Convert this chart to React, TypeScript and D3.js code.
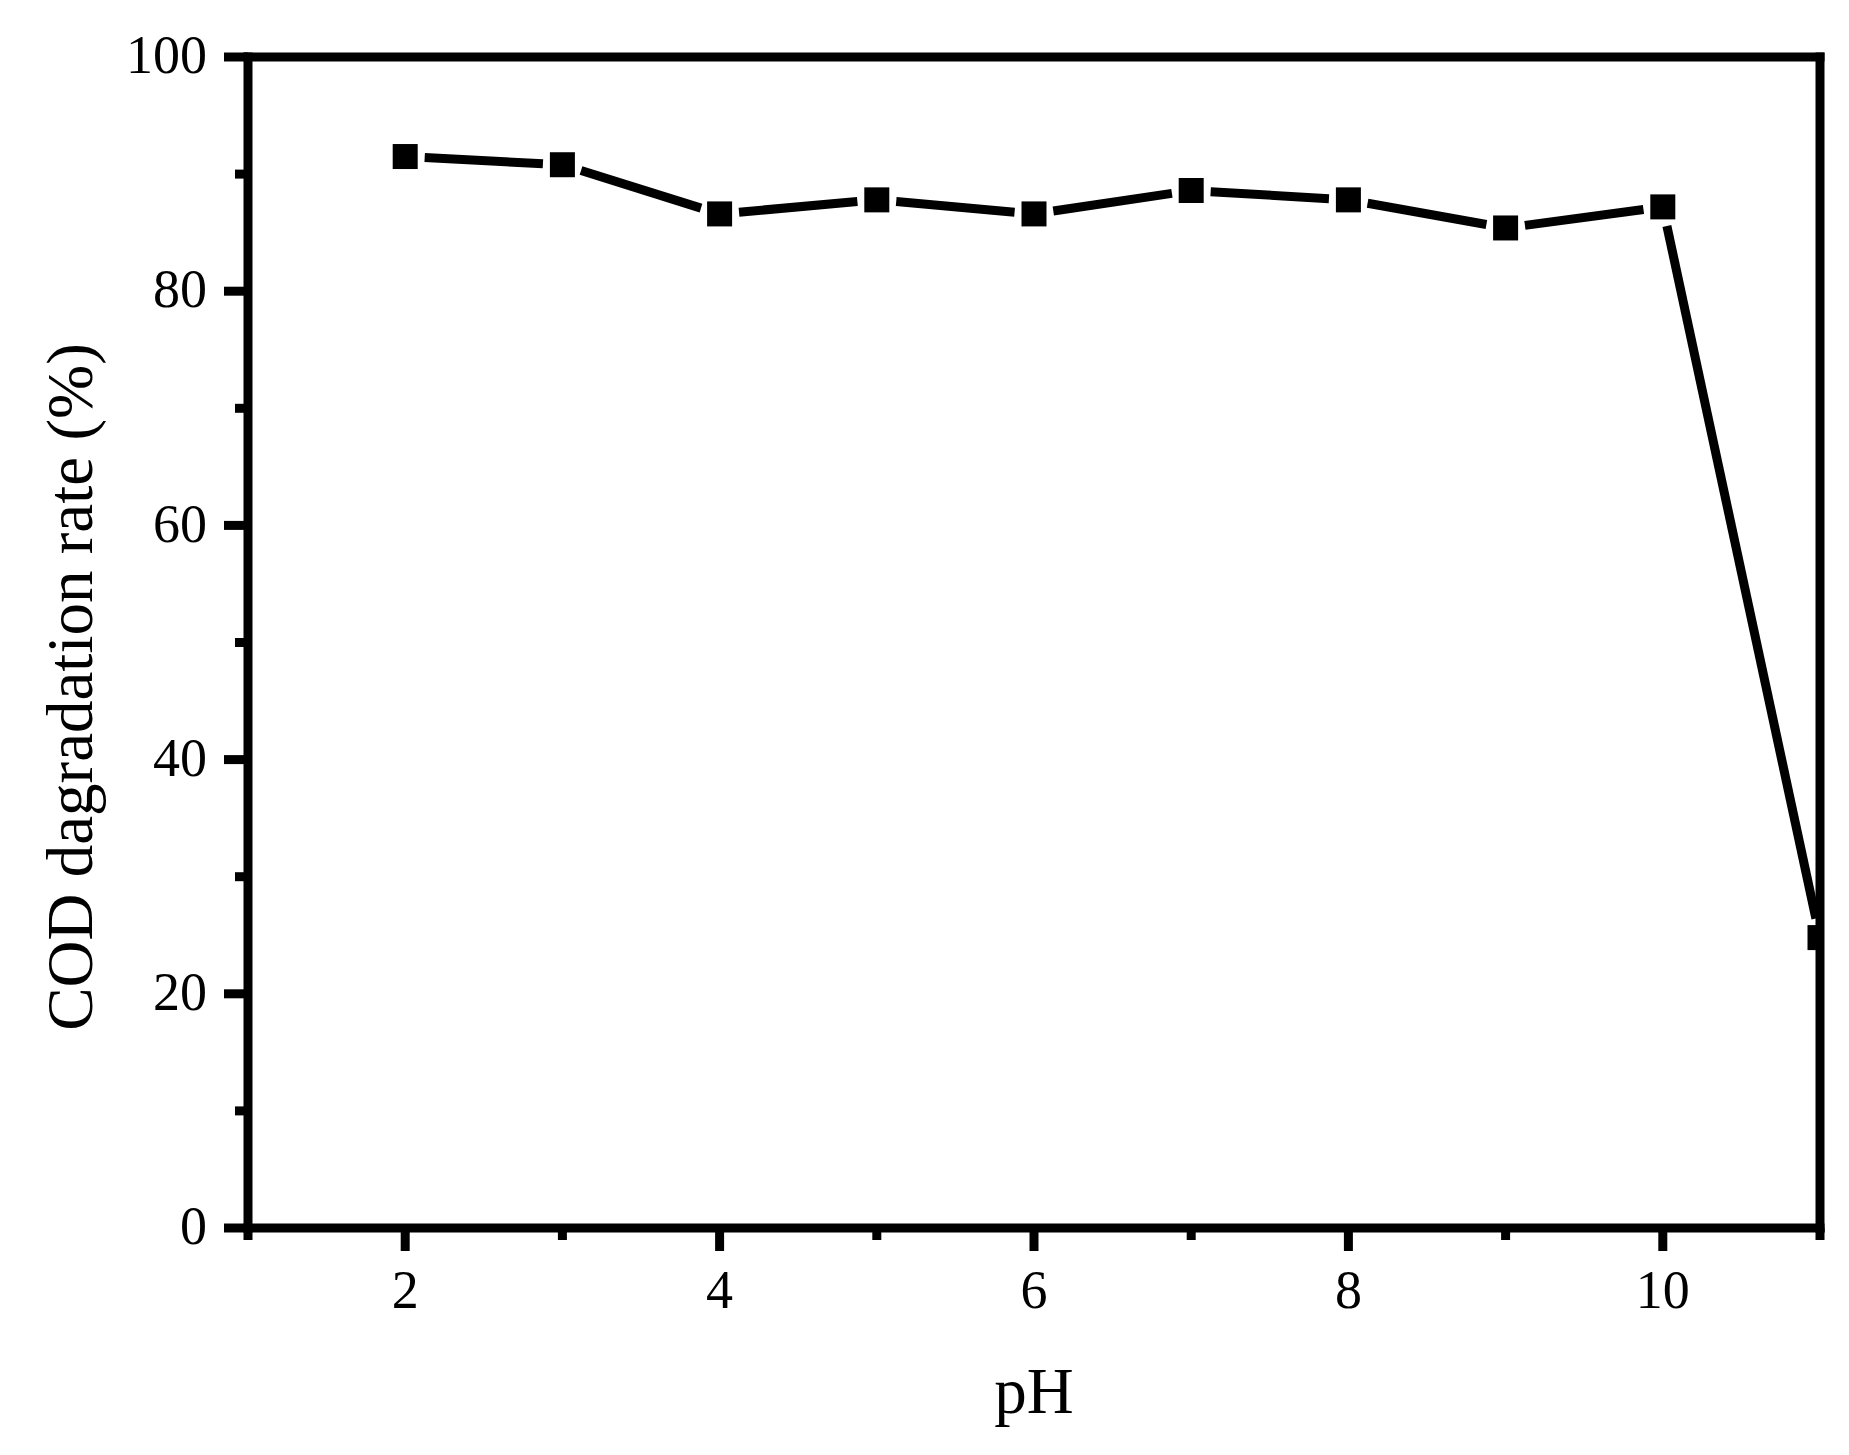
import * as d3 from "d3";

const PH = [2, 3, 4, 5, 6, 7, 8, 9, 10, 11];
const COD_RATE = [91.5, 90.8, 86.6, 87.8, 86.6, 88.6, 87.8, 85.4, 87.2, 24.8];

const X_MAJOR = [2, 4, 6, 8, 10];
const X_MINOR = [1, 3, 5, 7, 9, 11];
const Y_MAJOR = [0, 20, 40, 60, 80, 100];
const Y_MINOR = [10, 30, 50, 70, 90];

const X_TITLE = "pH";
const Y_TITLE = "COD dagradation rate (%)";

const W = 1849;
const H = 1455;
const FONT = "'Liberation Serif', 'Times New Roman', serif";
const LW = 9;
const MARK = 25;
const GAP = 19.5;

export default function App() {
  const x = d3.scaleLinear().domain([1, 11]).range([248, 1820]);
  const y = d3.scaleLinear().domain([0, 100]).range([1228, 57]);
  const [x0, x1] = x.range();
  const [y0, y1] = y.range();

  const pts = PH.map((p, i) => ({ px: x(p), py: y(COD_RATE[i]) }));

  // line segments shortened so they stop short of each marker
  const segs = d3.pairs(pts).map(([a, b]) => {
    const dx = b.px - a.px;
    const dy = b.py - a.py;
    const len = Math.hypot(dx, dy);
    const ux = dx / len;
    const uy = dy / len;
    return {
      xa: a.px + ux * GAP,
      ya: a.py + uy * GAP,
      xb: b.px - ux * GAP,
      yb: b.py - uy * GAP,
    };
  });

  return (
    <div style={{ position: "absolute", left: 0, top: 0, background: "#fff" }}>
      <svg width={W} height={H} viewBox={`0 0 ${W} ${H}`} style={{ display: "block" }}>
        <defs>
          <clipPath id="plot">
            <rect x={x0} y={y1} width={x1 - x0} height={y0 - y1} />
          </clipPath>
        </defs>
        <rect width={W} height={H} fill="#fff" />

        {/* data line */}
        <g stroke="#000" strokeWidth={LW} strokeLinecap="butt">
          {segs.map((s, i) => (
            <line key={i} x1={s.xa} y1={s.ya} x2={s.xb} y2={s.yb} />
          ))}
        </g>
        <g clipPath="url(#plot)" fill="#000">
          {pts.map((p, i) => (
            <rect key={i} x={p.px - MARK / 2} y={p.py - MARK / 2} width={MARK} height={MARK} />
          ))}
        </g>

        {/* frame */}
        <g stroke="#000" strokeWidth={LW} strokeLinecap="square" fill="none">
          <line x1={x0} y1={y1} x2={x1} y2={y1} />
          <line x1={x0} y1={y0} x2={x1} y2={y0} />
          <line x1={x0} y1={y0} x2={x0} y2={y1} />
          <line x1={x1} y1={y0} x2={x1} y2={y1} />
        </g>

        {/* y ticks */}
        <g stroke="#000" strokeWidth={LW}>
          {Y_MAJOR.map((v) => (
            <line key={`ym${v}`} x1={x0 - 24} x2={x0} y1={y(v)} y2={y(v)} />
          ))}
          {Y_MINOR.map((v) => (
            <line key={`yn${v}`} x1={x0 - 13} x2={x0} y1={y(v)} y2={y(v)} />
          ))}
          {X_MAJOR.map((v) => (
            <line key={`xm${v}`} x1={x(v)} x2={x(v)} y1={y0} y2={y0 + 23} />
          ))}
          {X_MINOR.map((v) => (
            <line key={`xn${v}`} x1={x(v)} x2={x(v)} y1={y0} y2={y0 + 12} />
          ))}
        </g>

        {/* tick labels */}
        <g fontFamily={FONT} fontSize={54} fill="#000">
          {Y_MAJOR.map((v) => (
            <text key={`yl${v}`} x={207} y={y(v)} dy="0.3em" textAnchor="end">
              {v}
            </text>
          ))}
          {X_MAJOR.map((v) => (
            <text key={`xl${v}`} x={x(v)} y={1308} textAnchor="middle">
              {v}
            </text>
          ))}
        </g>

        {/* axis titles */}
        <text
          x={(x0 + x1) / 2}
          y={1413}
          textAnchor="middle"
          fontFamily={FONT}
          fontSize={65}
          fill="#000"
        >
          {X_TITLE}
        </text>
        <text
          transform={`translate(92, 687) rotate(-90)`}
          textAnchor="middle"
          fontFamily={FONT}
          fontSize={65}
          fill="#000"
        >
          {Y_TITLE}
        </text>
      </svg>
    </div>
  );
}
